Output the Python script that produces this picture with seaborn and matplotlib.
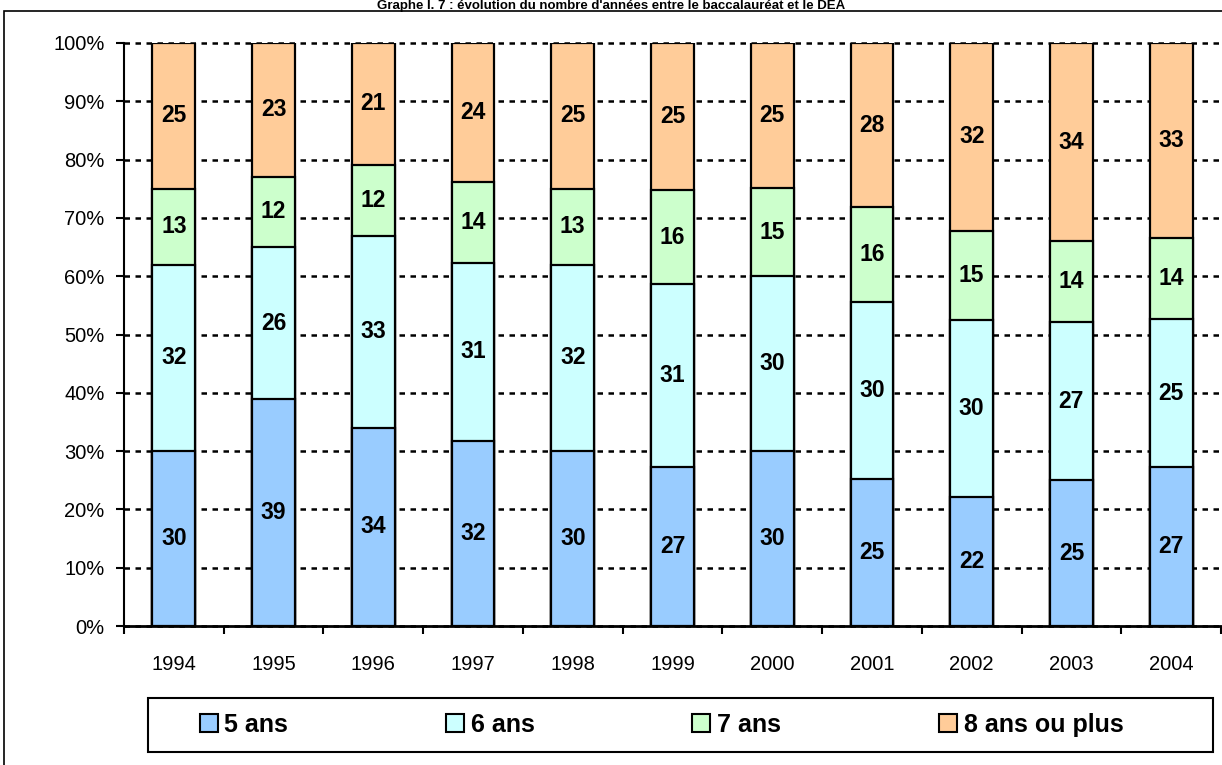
import matplotlib
matplotlib.use("Agg")
import matplotlib.pyplot as plt
from matplotlib.patches import Patch, Rectangle
from matplotlib.ticker import FixedLocator, PercentFormatter
import numpy as np
import pandas as pd
import seaborn as sns

# Data (percent of students per number of years)
years = ["1994", "1995", "1996", "1997", "1998", "1999", "2000", "2001", "2002", "2003", "2004"]
ans_5 = [30.0, 38.9, 34.0, 31.7, 30.0, 27.3, 30.0, 25.2, 22.2, 25.0, 27.3]
ans_6 = [32.0, 26.1, 32.9, 30.6, 32.0, 31.3, 30.0, 30.3, 30.3, 27.1, 25.3]
ans_7 = [13.0, 12.1, 12.2, 13.9, 13.0, 16.2, 15.1, 16.3, 15.3, 13.9, 14.0]
ans_8 = [25.0, 22.9, 20.9, 23.8, 25.0, 25.2, 24.9, 28.2, 32.2, 34.0, 33.4]
series_names = ["5 ans", "6 ans", "7 ans", "8 ans ou plus"]
colors = ["#99CCFF", "#CCFFFF", "#CCFFCC", "#FFCC99"]
title = "Graphe I. 7 : évolution du nombre d'années entre le baccalauréat et le DEA"

df = pd.DataFrame({"annee": years, "5 ans": ans_5, "6 ans": ans_6,
                   "7 ans": ans_7, "8 ans ou plus": ans_8})
cum = df[series_names].cumsum(axis=1)
cum["annee"] = df["annee"]

sns.set_theme(style="white")
plt.rcParams["font.family"] = ["Liberation Sans", "DejaVu Sans"]
plt.rcParams["text.color"] = "black"
plt.rcParams["xtick.color"] = "black"
plt.rcParams["ytick.color"] = "black"

W, H = 1222, 765
fig = plt.figure(figsize=(W / 100, H / 100), dpi=100)
ax = fig.add_axes([124 / W, 1 - 626 / H, (1221 - 124) / W, (626 - 43) / H])

# stacked bars: draw cumulative totals from the top series down
for name, color in reversed(list(zip(series_names, colors))):
    sns.barplot(data=cum, x="annee", y=name, color=color, saturation=1,
                width=0.43, edgecolor="black", linewidth=1.6,
                errorbar=None, ax=ax, zorder=2)

# value labels in the middle of each segment
for i in range(len(years)):
    for name in series_names:
        val = df.loc[i, name]
        mid = cum.loc[i, name] - val / 2
        ax.text(i, mid, f"{val:.0f}", ha="center", va="center",
                fontsize=16.5, fontweight="bold", color="black", zorder=3)

# axes styling
ax.set_xlim(-0.5, len(years) - 0.5)
ax.set_ylim(0, 100)
ax.set_xlabel("")
ax.set_ylabel("")
ax.yaxis.set_major_locator(FixedLocator(np.arange(0, 101, 10)))
ax.yaxis.set_major_formatter(PercentFormatter(decimals=0))
ax.grid(axis="y", color="black", linestyle=(0, (2.2, 2.2)), linewidth=1.8)
ax.set_axisbelow(True)
for gl in ax.get_ygridlines():
    gl.set_clip_on(False)

ax.set_xticks(range(len(years)))
ax.set_xticklabels(years)
ax.xaxis.set_minor_locator(FixedLocator(np.arange(-0.5, len(years), 1)))
ax.tick_params(axis="x", which="major", length=0, pad=21, labelsize=14.5,
               labelcolor="black")
ax.tick_params(axis="x", which="minor", length=6, width=1.5, direction="out",
               color="black", bottom=True)
ax.tick_params(axis="y", length=6, width=1.5, direction="out", color="black",
               left=True, pad=8, labelsize=14.5, labelcolor="black")

for side in ["top", "right"]:
    ax.spines[side].set_visible(False)
ax.spines["left"].set_color("black")
ax.spines["left"].set_linewidth(1.5)
ax.spines["bottom"].set_color("black")
ax.spines["bottom"].set_linewidth(2)

# legend in its own box under the chart
handles = [Patch(facecolor=c, edgecolor="black", linewidth=1.5, label=n)
           for n, c in zip(series_names, colors)]
leg = fig.legend(handles=handles, loc="center left", bbox_to_anchor=(177 / W, 1 - 725 / H),
                 ncol=4, frameon=False, prop={"weight": "bold", "size": 18},
                 handlelength=0.72, handleheight=0.72, handletextpad=0.28,
                 columnspacing=6.3, borderpad=0.4)
for t in leg.get_texts():
    t.set_color("black")
fig.add_artist(Rectangle((148 / W, 1 - 752 / H), (1213 - 148) / W, 54 / H,
                         transform=fig.transFigure, fill=False,
                         edgecolor="black", linewidth=1.5))

# outer chart frame (runs off the right and bottom edges)
fig.add_artist(Rectangle((4 / W, -0.05), 1.1, 1.05 - 11 / H,
                         transform=fig.transFigure, fill=False,
                         edgecolor="black", linewidth=1.2))

# title squeezed above the frame
fig.text(0.5, 1 - 9 / H, title, ha="center", va="baseline",
         fontsize=9.5, fontweight="bold", color="black")

fig.savefig("out.png", dpi=100)
